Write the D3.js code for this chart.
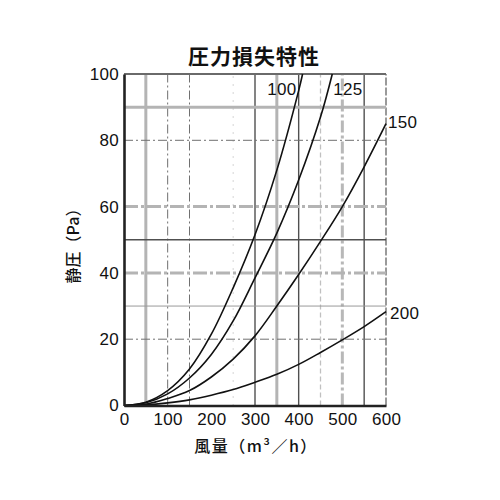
<!DOCTYPE html>
<html><head><meta charset="utf-8">
<script src="https://cdn.jsdelivr.net/npm/d3@7"></script>
<style>body{margin:0;background:#fff}</style>
</head><body><svg id="c" width="500" height="500"></svg>
<script>
// ---- data ----
const chartTitle = "圧力損失特性";
const xTitle = "風量（m³／h）";
const yTitle = "静圧（Pa）";
const flowTicks = [0, 100, 200, 300, 400, 500, 600];
const pressureTicks = [0, 20, 40, 60, 80, 100];
const ductSizes = ["100", "125", "150", "200"];
const flow100 = [0, 50, 100, 150, 200, 250, 300, 350, 400, 409];
const pres100 = [0, 1, 4.5, 11, 21.5, 35.5, 51.5, 71, 95, 100];
const flow125 = [0, 50, 100, 150, 200, 250, 300, 350, 400, 450, 477];
const pres125 = [0, 0.8, 3.5, 8.3, 15.4, 25.5, 38.5, 52, 68, 87, 100];
const flow150 = [0, 50, 100, 150, 200, 250, 300, 350, 400, 450, 500, 550, 600];
const pres150 = [0, 0.4, 2.1, 4.5, 8.6, 14, 21, 30, 39.5, 49.5, 60, 72, 85];
const flow200 = [0, 50, 100, 150, 200, 250, 300, 350, 400, 450, 500, 550, 600];
const pres200 = [0, 0.2, 0.8, 1.7, 3.1, 4.8, 7, 9.4, 12.4, 16, 19.8, 23.8, 28.3];
const vGridValues = [50, 100, 150, 250, 300, 350, 400, 450, 500, 550, 600];
const vGridKinds  = ["grayThick","dashDot","dashDot","dotted","dark","grayThick","dark","lightDash","grayThickDash","dark","grayDash"];
const hGridValues = [20, 30, 40, 50, 60, 80, 90, 100];
const hGridKinds  = ["dashDot","lightSolid","grayThickDashDot","dark","grayThickDashDot","dashDot","grayThick","top"];

// ---- styles ----
const gridStyle = {
  grayThick:        {stroke:"#b4b4b4", w:3,   dash:null},
  grayThickDash:    {stroke:"#b8b8b8", w:3,   dash:"12,3,3,3"},
  grayThickDashDot: {stroke:"#b4b4b4", w:3,   dash:"14,3,3,3"},
  dashDot:          {stroke:"#707070", w:1,   dash:"9,3,2,3"},
  dark:             {stroke:"#505050", w:1.4, dash:null},
  dotted:           {stroke:"#aaaaaa", w:1,   dash:"1,7"},
  lightDash:        {stroke:"#c0c0c0", w:1.3, dash:"5,3"},
  lightSolid:       {stroke:"#9a9a9a", w:1,   dash:null},
  grayDash:         {stroke:"#9a9a9a", w:2,   dash:"8,2"},
  top:              {stroke:"#6a6a6a", w:2,   dash:null}
};

const svg = d3.select("#c");
svg.append("rect").attr("width",500).attr("height",500).attr("fill","#fff");

const x = d3.scaleLinear().domain([0, 600]).range([124, 386]);
const y = d3.scaleLinear().domain([0, 100]).range([405.5, 74]);

const latin = "'Liberation Sans', Arial, sans-serif";
const cjk = "'Noto Sans CJK JP', 'Noto Sans', sans-serif";

// grid
const g = svg.append("g");
vGridValues.forEach((v, i) => {
  const s = gridStyle[vGridKinds[i]];
  g.append("line").attr("x1", x(v)).attr("x2", x(v)).attr("y1", y(0)).attr("y2", y(100))
    .attr("stroke", s.stroke).attr("stroke-width", s.w).attr("stroke-dasharray", s.dash);
});
hGridValues.forEach((v, i) => {
  const s = gridStyle[hGridKinds[i]];
  g.append("line").attr("x1", x(0)).attr("x2", x(600)).attr("y1", y(v)).attr("y2", y(v))
    .attr("stroke", s.stroke).attr("stroke-width", s.w).attr("stroke-dasharray", s.dash);
});

// curves
const series = [
  {name: ductSizes[0], q: flow100, p: pres100},
  {name: ductSizes[1], q: flow125, p: pres125},
  {name: ductSizes[2], q: flow150, p: pres150},
  {name: ductSizes[3], q: flow200, p: pres200}
];
const line = d3.line().x(d => x(d[0])).y(d => y(d[1])).curve(d3.curveCatmullRom.alpha(0.5));
series.forEach(s => {
  const pts = s.q.map((q, i) => [q, s.p[i]]);
  svg.append("path").attr("d", line(pts)).attr("fill", "none")
    .attr("stroke", "#111").attr("stroke-width", 1.6);
  s.end = pts[pts.length - 1];
});

// axes
const xAxis = svg.append("g").attr("transform", `translate(0,${y(0)})`)
  .call(d3.axisBottom(x).tickValues(flowTicks).tickSize(0).tickPadding(7).tickSizeOuter(0));
const yAxis = svg.append("g").attr("transform", `translate(${x(0)},0)`)
  .call(d3.axisLeft(y).tickValues(pressureTicks).tickSize(0).tickPadding(5).tickSizeOuter(0));
[xAxis, yAxis].forEach(a => {
  a.select(".domain").attr("stroke", "#222").attr("stroke-width", 2.6);
  a.selectAll("text").attr("font-family", latin).attr("font-size", 17)
    .attr("fill", "#111").attr("letter-spacing", 0.3);
});

// curve labels
const lab = (t, px, py, anchor) => svg.append("text").text(t).attr("x", px).attr("y", py)
  .attr("text-anchor", anchor).attr("font-family", latin).attr("font-size", 17)
  .attr("fill", "#111").attr("letter-spacing", 0.3);
lab(series[0].name, x(series[0].end[0]) - 6, y(series[0].end[1]) + 21, "end");
lab(series[1].name, x(series[1].end[0]) + 1, y(series[1].end[1]) + 21, "start");
lab(series[2].name, x(series[2].end[0]) + 2, y(series[2].end[1]) + 4, "start");
lab(series[3].name, x(series[3].end[0]) + 4, y(series[3].end[1]) + 7, "start");

// titles
svg.append("text").text(chartTitle).attr("x", 254).attr("y", 64).attr("text-anchor", "middle")
  .attr("font-family", cjk).attr("font-size", 21).attr("font-weight", 700).attr("fill", "#111")
  .attr("letter-spacing", 1);
svg.append("text").text(xTitle).attr("x", 256).attr("y", 452).attr("text-anchor", "middle")
  .attr("font-family", cjk).attr("font-size", 16).attr("font-weight", 500).attr("fill", "#111")
  .attr("letter-spacing", 1.5);
svg.append("text").text(yTitle).attr("transform", "translate(79,242) rotate(-90)")
  .attr("text-anchor", "middle").attr("font-family", cjk).attr("font-size", 16)
  .attr("font-weight", 500).attr("fill", "#111");
</script></body></html>
